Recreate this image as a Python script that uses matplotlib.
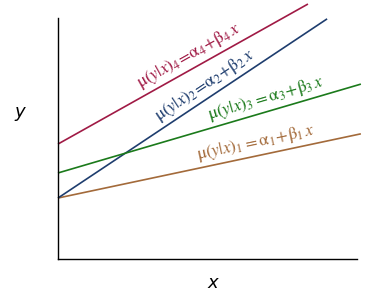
import numpy as np
import matplotlib
matplotlib.use("Agg")
import matplotlib.pyplot as plt

plt.rcParams['mathtext.fontset'] = 'stix'

# line data (lines 1..4)
names = ["1", "2", "3", "4"]
intercepts = [2.53, 2.53, 3.57, 4.77]
slopes = [0.263, 0.826, 0.364, 0.695]
x_end = [10.13, 9.0, 10.13, 8.36]
label_x = [6.7, 5.1, 7.05, 4.55]
colors = ["#a36a3a", "#1e3d6e", "#1b7a1b", "#a01a45"]
labels = [r"$\mathrm{\mu}(y|x)_1 = \mathrm{\alpha}_1\!+\!\mathrm{\beta}_1\,x$",
          r"$\mathrm{\mu}(y|x)_2\!=\!\mathrm{\alpha}_2\!+\!\mathrm{\beta}_2\,x$",
          r"$\mathrm{\mu}(y|x)_3 = \mathrm{\alpha}_3\!+\!\mathrm{\beta}_3\,x$",
          r"$\mathrm{\mu}(y|x)_4\!=\!\mathrm{\alpha}_4\!+\!\mathrm{\beta}_4\,x$"]

fig = plt.figure(figsize=(3.83, 2.94), dpi=100)
ax = fig.add_axes([58/383, 35/294, (357-58)/383, (259-18)/294])
ax.set_xlim(0, 10)
ax.set_ylim(0, 10)

for a, b, xe, lx, c, lab in zip(intercepts, slopes, x_end, label_x, colors, labels):
    xs = np.array([0, xe])
    ax.plot(xs, a + b * xs, color=c, lw=1.2, clip_on=False, solid_capstyle='butt')
    ax.text(lx, a + b * lx + 0.12, lab, color=c, fontsize=12.5,
            rotation=np.degrees(np.arctan(b)), transform_rotates_text=True,
            rotation_mode='anchor', ha='center', va='bottom')

for s in ['top', 'right']:
    ax.spines[s].set_visible(False)
ax.spines['left'].set_linewidth(1.0)
ax.spines['bottom'].set_linewidth(1.0)
ax.set_xticks([])
ax.set_yticks([])

fig.text(20/383, 1 - 112/294, "y", fontsize=13, style='italic', ha='center', va='center')
fig.text(213/383, 1 - 283/294, "x", fontsize=13, style='italic', ha='center', va='center')

fig.savefig("out.png", dpi=100)
